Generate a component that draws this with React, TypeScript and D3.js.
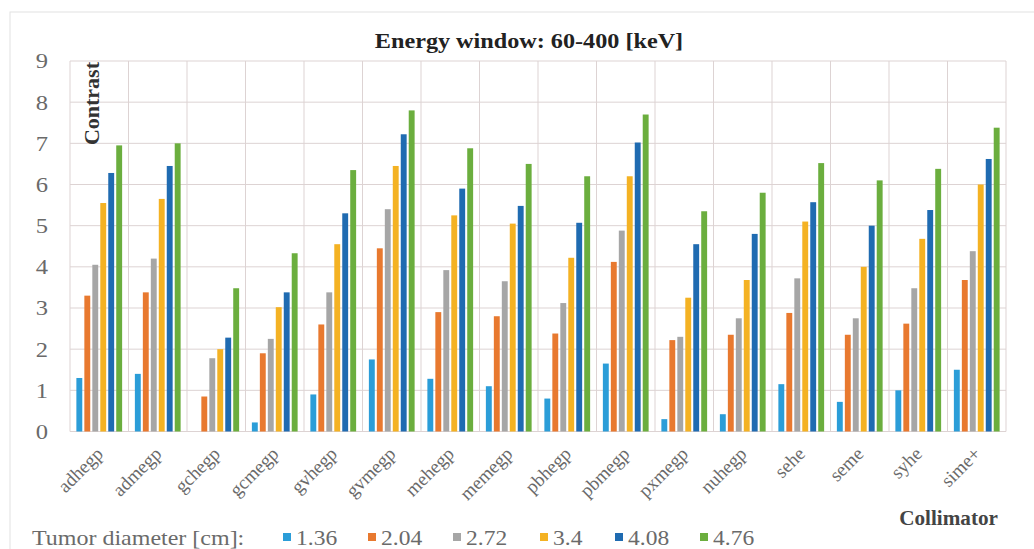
import React from "react";
import * as d3 from "d3";

const categories = ["adhegp","admegp","gchegp","gcmegp","gvhegp","gvmegp","mehegp","memegp","pbhegp","pbmegp","pxmegp","nuhegp","sehe","seme","syhe","sime+"];
const seriesNames = ["1.36","2.04","2.72","3.4","4.08","4.76"];
const s136 = [1.3,1.4,0,0.22,0.9,1.75,1.28,1.1,0.8,1.65,0.3,0.42,1.15,0.72,1.0,1.5];
const s204 = [3.3,3.38,0.85,1.9,2.6,4.45,2.9,2.8,2.38,4.12,2.22,2.35,2.88,2.35,2.62,3.68];
const s272 = [4.05,4.2,1.78,2.25,3.38,5.4,3.92,3.65,3.12,4.88,2.3,2.75,3.72,2.75,3.48,4.38];
const s34 = [5.55,5.65,2.0,3.02,4.55,6.45,5.25,5.05,4.22,6.2,3.25,3.68,5.1,4.0,4.68,6.0];
const s408 = [6.28,6.45,2.28,3.38,5.3,7.22,5.9,5.48,5.07,7.02,4.55,4.8,5.57,5.0,5.38,6.62];
const s476 = [6.95,7.0,3.48,4.33,6.35,7.8,6.88,6.5,6.2,7.7,5.35,5.8,6.52,6.1,6.38,7.38];
const seriesValues = [s136, s204, s272, s34, s408, s476];
const colors = ["#2B9DD8","#E8792F","#A6A6A6","#F4B223","#1F6BB1","#6BAE3E"];
const yTicks = [0,1,2,3,4,5,6,7,8,9];

const FONT = "'Liberation Serif', 'DejaVu Serif', serif";

export default function App() {
  const W = 1034, H = 549;
  const left = 70, right = 1006, top = 61, bottom = 431.5;
  const x0 = d3.scaleBand<string>().domain(categories).range([left, right]).padding(0);
  const x1 = d3.scaleBand<string>().domain(seriesNames).range([0, x0.bandwidth()]).paddingInner(0.26).paddingOuter(0.8);
  const y = d3.scaleLinear().domain([0, 9]).range([bottom, top]);
  const grid = "#DDD3D3";
  const textGray = "#6A6A6A";

  const legendX = [283, 368, 453, 540, 615, 700];
  const SX = 1.17;

  return (
    <svg width={W} height={H} style={{ position: "absolute", left: 0, top: 0, background: "#fff" }} fontFamily={FONT}>
      <rect x={10} y={12} width={1040} height={560} fill="#fff" stroke="#E2E2E2" />
      {yTicks.map((t) => (
        <line key={"h" + t} x1={left} x2={right} y1={y(t)} y2={y(t)} stroke={grid} strokeWidth={1} />
      ))}
      {categories.map((c) => (
        <line key={"v" + c} x1={x0(c)!} x2={x0(c)!} y1={top} y2={bottom} stroke={grid} strokeWidth={1} />
      ))}
      <line x1={right} x2={right} y1={top} y2={bottom} stroke={grid} strokeWidth={1} />
      {categories.map((c, ci) => (
        <g key={"g" + c} transform={`translate(${x0(c)},0)`}>
          {seriesNames.map((s, si) => {
            const v = seriesValues[si][ci];
            if (v <= 0) return null;
            return (
              <rect key={s} x={x1(s)!} y={y(v)} width={x1.bandwidth()} height={y(0) - y(v)} fill={colors[si]} />
            );
          })}
        </g>
      ))}
      {yTicks.map((t) => (
        <text key={"yt" + t} transform={`translate(48,${y(t)}) scale(${SX},1)`} dy="0.35em" textAnchor="end" fontSize={21} fill={textGray}>
          {t}
        </text>
      ))}
      {categories.map((c) => {
        const cx = x0(c)! + x0.bandwidth() / 2;
        return (
          <text key={"xl" + c} transform={`translate(${cx + 5},${455}) rotate(-45)`} textAnchor="end" fontSize={19} fill={textGray}>
            {c}
          </text>
        );
      })}
      <text transform={`translate(529,48) scale(1.1,1)`} textAnchor="middle" fontSize={22} fontWeight="bold" fill="#222">
        Energy window: 60-400 [keV]
      </text>
      <text transform={`translate(99,${62}) rotate(-90)`} textAnchor="end" fontSize={22} fontWeight="bold" fill="#333">
        Contrast
      </text>
      <text transform={`translate(998,525) scale(1.06,1)`} textAnchor="end" fontSize={20} fontWeight="bold" fill="#444">
        Collimator
      </text>
      <text transform={`translate(32,545) scale(1.2,1)`} fontSize={20} fill={textGray}>Tumor diameter [cm]:</text>
      {seriesNames.map((s, si) => (
        <g key={"lg" + s}>
          <rect x={legendX[si]} y={533} width={8} height={8} fill={colors[si]} />
          <text transform={`translate(${legendX[si] + 13},545) scale(1.12,1)`} fontSize={21} fill={textGray}>{s}</text>
        </g>
      ))}
    </svg>
  );
}
